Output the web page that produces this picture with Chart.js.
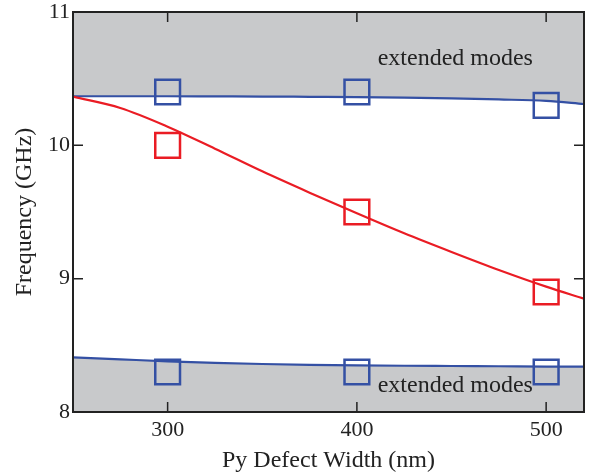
<!DOCTYPE html>
<html>
<head>
<meta charset="utf-8">
<script src="https://cdn.jsdelivr.net/npm/chart.js@4/dist/chart.umd.min.js"></script>
<style>
  html, body { margin: 0; padding: 0; background: #fff; }
  #wrap { width: 595px; height: 475px; }
</style>
</head>
<body>
<div id="wrap"><canvas id="mycanvas" width="595" height="475"></canvas></div>
<script>
// measured points (squares)
var widths = [300, 400, 500];
var upperMarkers = [10.4, 10.4, 10.3];
var localMarkers = [10.0, 9.5, 8.9];
var lowerMarkers = [8.3, 8.3, 8.3];

// calculated curves
var fitX = [250, 275, 300, 325, 350, 375, 400, 425, 450, 475, 500, 520];
var upperFit = [10.368, 10.368, 10.368, 10.367, 10.366, 10.364, 10.362, 10.358, 10.352, 10.344, 10.333, 10.31];
var localFit = [10.365, 10.28, 10.14, 9.975, 9.805, 9.645, 9.49, 9.34, 9.2, 9.065, 8.94, 8.85];
var lowerFit = [8.41, 8.395, 8.38, 8.368, 8.36, 8.354, 8.35, 8.347, 8.345, 8.343, 8.341, 8.34];

var xTicks = [300, 400, 500];
var yTicks = [8, 9, 10, 11];
var bandLabel = "extended modes";
var bandLabelPos = [[452, 10.6], [452, 8.15]];

var blue = '#3450a4';
var red = '#ea1c24';
var gray = '#c8c9cb';
var serif = "'Liberation Serif', 'DejaVu Serif', serif";

function pts(xs, ys) {
	var out = [];
	for (var i in xs) out.push({x: xs[i], y: ys[i]});
	return out;
}

var fitStyle = {showLine: true, pointRadius: 0, borderWidth: 2.2, cubicInterpolationMode: 'monotone'};
var markStyle = {showLine: false, pointStyle: 'rect', pointRadius: 17.5, pointBorderWidth: 2.5,
	pointBackgroundColor: 'rgba(0,0,0,0)'};

var chartdata = {
	datasets: [
		Object.assign({data: pts(fitX, upperFit), borderColor: blue, fill: 'end', backgroundColor: gray, order: 3}, fitStyle),
		Object.assign({data: pts(fitX, lowerFit), borderColor: blue, fill: 'start', backgroundColor: gray, order: 3}, fitStyle),
		Object.assign({data: pts(fitX, localFit), borderColor: red, fill: false, order: 2}, fitStyle),
		Object.assign({data: pts(widths, upperMarkers), pointBorderColor: blue, order: 1}, markStyle),
		Object.assign({data: pts(widths, localMarkers), pointBorderColor: red, order: 1}, markStyle),
		Object.assign({data: pts(widths, lowerMarkers), pointBorderColor: blue, order: 1}, markStyle)
	]
};

function noPad(s) {
	s.paddingLeft = 0; s.paddingRight = 0; s.paddingTop = 0; s.paddingBottom = 0;
}

// frame, inward ticks and band labels
var extras = {
	id: 'extras',
	afterDatasetsDraw: function(chart) {
		var ctx = chart.ctx, a = chart.chartArea;
		var xs = chart.scales.x, ys = chart.scales.y;
		ctx.save();
		ctx.strokeStyle = '#222';
		ctx.lineWidth = 2;
		ctx.strokeRect(a.left, a.top, a.right - a.left, a.bottom - a.top);
		ctx.lineWidth = 1.5;
		ctx.beginPath();
		xTicks.forEach(function(v) {
			var px = xs.getPixelForValue(v);
			ctx.moveTo(px, a.bottom); ctx.lineTo(px, a.bottom - 10);
			ctx.moveTo(px, a.top); ctx.lineTo(px, a.top + 10);
		});
		yTicks.forEach(function(v) {
			var py = ys.getPixelForValue(v);
			if (v == 8 || v == 11) return;
			ctx.moveTo(a.left, py); ctx.lineTo(a.left + 10, py);
			ctx.moveTo(a.right, py); ctx.lineTo(a.right - 10, py);
		});
		ctx.stroke();
		ctx.fillStyle = '#222';
		ctx.font = '24px ' + serif;
		ctx.textAlign = 'center';
		ctx.textBaseline = 'alphabetic';
		bandLabelPos.forEach(function(p) {
			ctx.fillText(bandLabel, xs.getPixelForValue(p[0]), ys.getPixelForValue(p[1]));
		});
		ctx.restore();
	}
};

var ctx = document.getElementById('mycanvas');
var chart = new Chart(ctx, {
	type: 'scatter',
	data: chartdata,
	plugins: [extras],
	options: {
		responsive: false,
		animation: false,
		layout: {autoPadding: false, padding: {top: 12, right: 11, left: 0, bottom: 0}},
		plugins: {legend: {display: false}, tooltip: {enabled: false}},
		scales: {
			x: {
				type: 'linear', min: 250, max: 520,
				afterBuildTicks: function(s) { s.ticks = xTicks.map(function(v) { return {value: v}; }); },
				afterFit: function(s) { s.height = 63; noPad(s); },
				grid: {display: false, drawTicks: false},
				border: {display: false},
				ticks: {color: '#222', padding: 5, font: {family: serif, size: 22}},
				title: {display: true, text: 'Py Defect Width (nm)', color: '#222', padding: {top: 4, bottom: 0}, font: {family: serif, size: 24}}
			},
			y: {
				type: 'linear', min: 8, max: 11,
				afterBuildTicks: function(s) { s.ticks = yTicks.map(function(v) { return {value: v}; }); },
				afterFit: function(s) { s.width = 73; noPad(s); },
				grid: {display: false, drawTicks: false},
				border: {display: false},
				ticks: {color: '#222', padding: 3, font: {family: serif, size: 22}},
				title: {display: true, text: 'Frequency (GHz)', color: '#222', padding: {top: 10, bottom: 4}, font: {family: serif, size: 24}}
			}
		}
	}
});
</script>
</body>
</html>
